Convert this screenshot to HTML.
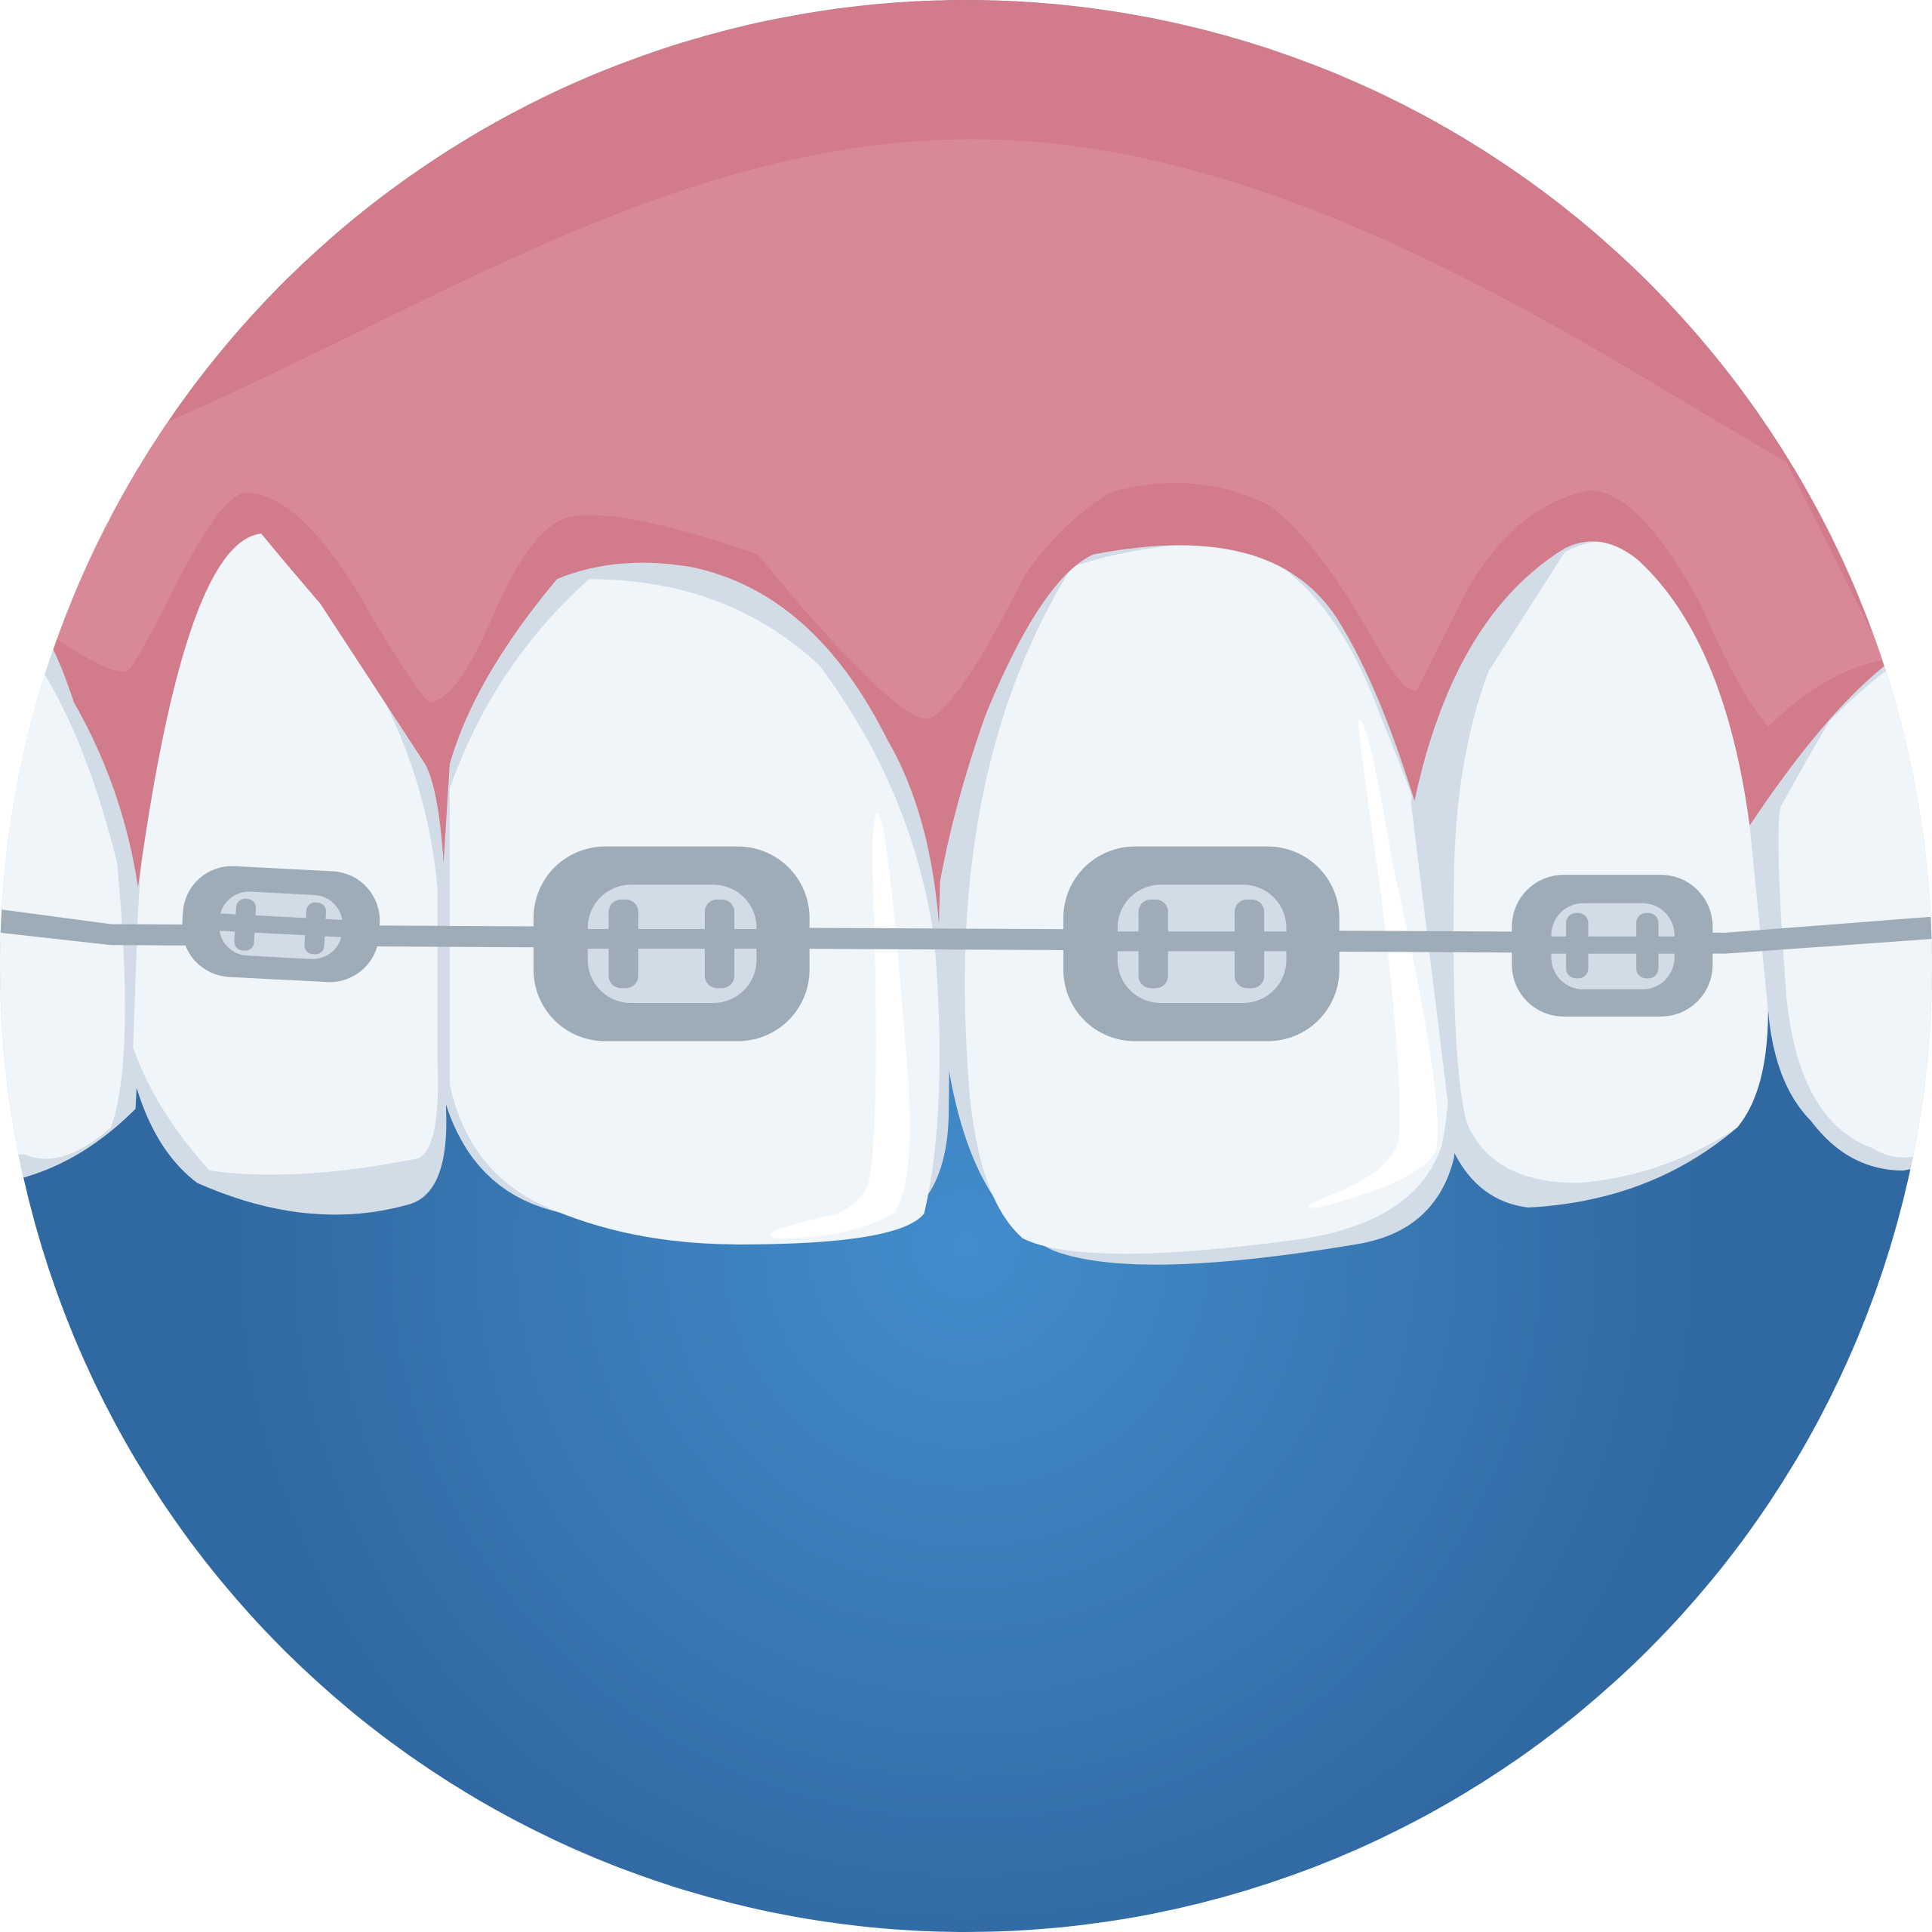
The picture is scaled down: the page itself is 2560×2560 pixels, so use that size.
<!DOCTYPE html>
<html><head><style>html,body{margin:0;padding:0;background:#fff}svg{display:block}</style></head>
<body>
<svg width="2560" height="2560" viewBox="0 0 1568 1568" xmlns="http://www.w3.org/2000/svg">
<defs>
<radialGradient id="bg" cx="784" cy="1010" r="620" gradientUnits="userSpaceOnUse">
<stop offset="0" stop-color="#428dcc"/><stop offset="1" stop-color="#3068a1"/></radialGradient>
<clipPath id="c"><circle cx="784" cy="784" r="784"/></clipPath>
</defs>
<g clip-path="url(#c)">
<rect width="1568" height="1568" fill="url(#bg)"/>
<rect x="0" y="400" width="1568" height="420" fill="#d1dce6"/>
<!-- teeth base shadows -->
<path d="M0 520 L120 700 L110 900 Q60 950 0 960 Z" fill="#d1dce6"/>
<path d="M0 500 Q60 560 95 700 Q110 860 90 915 Q50 950 20 937 L0 937 Z" fill="#f0f5f9"/>
<!-- tooth 2 -->
<path d="M212 433 Q120 440 105 740 L105 860 Q120 930 160 960 Q250 1000 330 978 Q365 970 362 900 L360 700 Q350 560 212 433 Z" fill="#d1dce6"/>
<path d="M212 433 Q130 440 112 740 L108 850 Q125 900 170 950 Q240 960 340 940 Q358 930 355 860 L355 720 Q340 560 212 433 Z" fill="#f0f5f9"/>
<!-- tooth 3 -->
<path d="M360 640 Q380 520 480 460 Q620 450 700 560 Q775 660 770 900 Q770 1010 668 1000 Q500 1000 440 980 Q380 960 360 890 Z" fill="#d1dce6"/>
<path d="M365 640 Q400 540 478 470 Q590 470 665 540 Q740 640 758 760 Q770 900 750 985 Q730 1010 600 1010 Q510 1010 440 978 Q380 950 365 880 Z" fill="#f0f5f9"/>
<path d="M712 660 Q720 660 735 850 Q745 960 725 985 Q690 1005 630 1005 Q610 1000 680 985 Q700 975 705 960 Q715 910 708 700 Q708 662 712 660 Z" fill="#fff"/>
<!-- tooth 4 -->
<path d="M887 450 Q1000 405 1060 470 Q1120 560 1170 720 Q1190 850 1180 940 Q1165 1000 1100 1010 Q920 1040 855 1015 Q780 980 765 830 Q760 620 887 450 Z" fill="#d1dce6"/>
<path d="M870 460 Q930 440 1005 440 Q1080 470 1120 580 Q1165 690 1168 720 Q1185 860 1170 930 Q1150 990 1060 1005 Q880 1030 830 1005 Q790 970 785 860 Q770 620 870 460 Z" fill="#f0f5f9"/>
<path d="M1103 585 Q1110 580 1130 700 Q1175 900 1165 935 Q1150 960 1070 980 Q1050 982 1080 970 Q1130 950 1135 925 Q1140 880 1120 720 Q1100 580 1103 585 Z" fill="#fff"/>
<!-- tooth 5 -->
<path d="M1145 650 Q1190 500 1270 445 Q1300 430 1330 440 Q1420 480 1430 820 Q1430 880 1410 915 Q1340 975 1240 980 Q1200 975 1180 935 Z" fill="#d1dce6"/>
<path d="M1180 720 Q1180 620 1208 545 L1270 448 Q1300 432 1330 445 Q1420 520 1435 820 Q1435 885 1410 915 Q1350 955 1280 960 Q1210 960 1190 910 Q1178 860 1180 720 Z" fill="#f0f5f9"/>
<!-- tooth 6 -->
<path d="M1420 670 Q1480 580 1530 540 L1568 540 L1568 945 L1545 950 Q1500 950 1470 910 Q1440 880 1435 820 Z" fill="#d1dce6"/>
<path d="M1445 655 Q1470 610 1485 585 Q1510 560 1530 545 L1568 545 L1568 935 Q1540 945 1520 932 Q1460 910 1450 810 Q1440 680 1445 655 Z" fill="#f0f5f9"/>
<!-- dark gum -->
<path d="M0 0 L1568 0 L1568 540 L1530 540 Q1480 580 1420 670 Q1400 520 1330 455 Q1300 430 1270 445 Q1180 500 1148 650 Q1120 560 1090 510 Q1040 420 887 450 Q845 470 800 580 Q775 650 763 715 L762 750 Q755 660 720 600 Q660 480 560 460 Q500 450 452 470 Q385 550 365 620 L360 700 Q356 640 345 620 L260 490 Q230 455 212 433 Q150 440 112 720 Q100 640 60 570 Q50 540 42 525 L0 500 Z" fill="#d27b8b"/>
<!-- light gum -->
<path d="M130 345 C350 250 550 113 790 113 C1050 113 1300 290 1450 375 L1530 535 Q1480 545 1435 590 Q1410 560 1380 490 Q1330 398 1290 398 Q1230 410 1190 480 Q1160 540 1150 560 Q1140 565 1115 520 Q1070 440 1030 410 Q970 380 900 400 Q855 430 830 470 Q780 570 755 583 Q730 590 615 450 Q500 410 460 420 Q430 430 400 500 Q370 570 348 570 Q330 550 290 480 Q240 400 200 400 Q180 400 140 480 Q110 540 103 545 Q90 548 45 518 L60 470 Z" fill="#d98898"/>
<!-- wire -->
<path d="M0 738 L90 750 L1400 757 L1568 744 L1568 762 L1400 774 L90 767 L0 757 Z" fill="#9eacb7"/>
<!-- bracket 1 -->
<g transform="rotate(3 228 750)">
<rect x="148" y="705" width="160" height="90" rx="40" fill="#9eacb7"/>
<rect x="178" y="725" width="100" height="52" rx="24" fill="#d1dce6"/>
<rect x="175" y="744" width="106" height="14" fill="#9eacb7"/>
<rect x="191" y="731" width="16" height="42" rx="7" fill="#9eacb7"/>
<rect x="248" y="731" width="16" height="42" rx="7" fill="#9eacb7"/>
</g>
<!-- bracket 2 -->
<rect x="433" y="687" width="224" height="158" rx="58" fill="#9eacb7"/>
<rect x="477" y="718" width="137" height="96" rx="35" fill="#d1dce6"/>
<rect x="470" y="754" width="150" height="16" fill="#9eacb7"/>
<rect x="494" y="730" width="24" height="72" rx="10" fill="#9eacb7"/>
<rect x="572" y="730" width="24" height="72" rx="10" fill="#9eacb7"/>
<!-- bracket 3 -->
<rect x="863" y="687" width="224" height="158" rx="58" fill="#9eacb7"/>
<rect x="907" y="718" width="137" height="96" rx="35" fill="#d1dce6"/>
<rect x="900" y="756" width="150" height="16" fill="#9eacb7"/>
<rect x="924" y="730" width="24" height="72" rx="10" fill="#9eacb7"/>
<rect x="1002" y="730" width="24" height="72" rx="10" fill="#9eacb7"/>
<!-- bracket 4 -->
<rect x="1227" y="710" width="163" height="115" rx="42" fill="#9eacb7"/>
<rect x="1259" y="733" width="100" height="70" rx="26" fill="#d1dce6"/>
<rect x="1255" y="760" width="108" height="14" fill="#9eacb7"/>
<rect x="1271" y="741" width="18" height="53" rx="8" fill="#9eacb7"/>
<rect x="1328" y="741" width="18" height="53" rx="8" fill="#9eacb7"/>
</g>
</svg>
</body></html>
